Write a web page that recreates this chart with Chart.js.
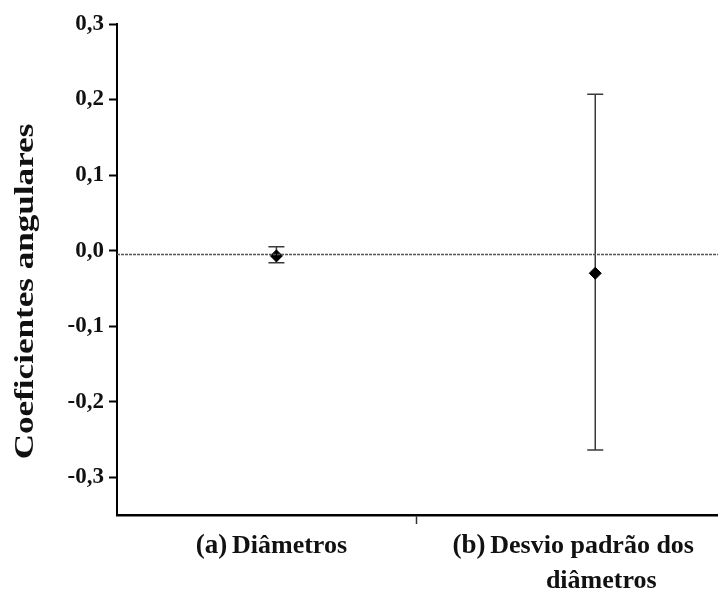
<!DOCTYPE html>
<html>
<head>
<meta charset="utf-8">
<script src="https://cdn.jsdelivr.net/npm/chart.js@4"></script>
<style>
  body { margin: 0; background: #fff; }
  #wrap { width: 718px; height: 594px; }
</style>
</head>
<body>
<div id="wrap"><canvas id="chart"></canvas></div>
<script>
// dados
const categoryPrefixes = ['(a)', '(b)'];
const categoryNames = [['Diâmetros'], ['Desvio padrão dos', 'diâmetros']];
const xPositions = [1, 2];
const means = [-0.007, -0.030];
const upperLimits = [0.005, 0.207];
const lowerLimits = [-0.016, -0.264];
const referenceValue = -0.005;
const yTickValues = [-0.3, -0.2, -0.1, 0.0, 0.1, 0.2, 0.3];
const xSeparatorTicks = [1.44];
const yTitle = 'Coeficientes angulares';

const serif = '"Liberation Serif", "Times New Roman", serif';

const errorBars = {
    id: 'errorBars',
    beforeDatasetsDraw(chart) {
        const ctx = chart.ctx;
        const xs = chart.scales.x, ys = chart.scales.y;
        ctx.save();
        ctx.strokeStyle = '#3a3a3a';
        ctx.lineWidth = 1.5;
        xPositions.forEach((xv, i) => {
            const px = xs.getPixelForValue(xv);
            const top = ys.getPixelForValue(upperLimits[i]);
            const bot = ys.getPixelForValue(lowerLimits[i]);
            ctx.beginPath();
            ctx.moveTo(px, top); ctx.lineTo(px, bot);
            ctx.moveTo(px - 8, top); ctx.lineTo(px + 8, top);
            ctx.moveTo(px - 8, bot); ctx.lineTo(px + 8, bot);
            ctx.stroke();
        });
        ctx.restore();
    }
};

const labelsPlugin = {
    id: 'labelsPlugin',
    afterDraw(chart) {
        const ctx = chart.ctx;
        const xs = chart.scales.x;
        ctx.save();
        ctx.fillStyle = '#111';
        ctx.textBaseline = 'alphabetic';
        const preFont = 'bold 27px ' + serif;
        const nameFont = 'bold 26px ' + serif;
        xPositions.forEach((xv, i) => {
            const px = xs.getPixelForValue(xv);
            const lines = categoryNames[i];
            // primeira linha com o prefixo
            ctx.font = preFont;
            const wp = ctx.measureText(categoryPrefixes[i] + ' ').width - 2;
            ctx.font = nameFont;
            const wn = ctx.measureText(lines[0]).width;
            const shift = lines.length > 1 ? -22 : -5;
            let x0 = px + shift - (wp + wn) / 2;
            ctx.textAlign = 'left';
            ctx.font = preFont;
            ctx.fillText(categoryPrefixes[i], x0, 553);
            ctx.font = nameFont;
            ctx.fillText(lines[0], x0 + wp, 553);
            for (let k = 1; k < lines.length; k++) {
                ctx.textAlign = 'center';
                ctx.fillText(lines[k], px + 6, 553 + 35 * k);
            }
        });
        // título do eixo y (esticado como no original)
        const ys = chart.scales.y;
        const cy = (ys.top + ys.bottom) / 2 + 22;
        ctx.translate(33, cy);
        ctx.rotate(-Math.PI / 2);
        ctx.scale(1.3, 1);
        ctx.font = 'bold 27px ' + serif;
        ctx.textAlign = 'center';
        ctx.fillText(yTitle, 0, 0);
        ctx.restore();
    }
};

new Chart(document.getElementById('chart'), {
    type: 'scatter',
    data: {
        datasets: [
            {
                type: 'line',
                data: [{ x: 0.5, y: referenceValue }, { x: 2.385, y: referenceValue }],
                borderColor: '#555',
                borderWidth: 1.5,
                borderDash: [3, 1],
                pointRadius: 0,
                fill: false
            },
            {
                data: xPositions.map((x, i) => ({ x: x, y: means[i] })),
                pointStyle: 'rectRot',
                pointRadius: 6,
                backgroundColor: '#000',
                borderColor: '#000'
            }
        ]
    },
    options: {
        responsive: true,
        maintainAspectRatio: false,
        animation: false,
        layout: { autoPadding: false, padding: { top: 24, right: 0, left: 0, bottom: 0 } },
        plugins: { legend: { display: false }, tooltip: { enabled: false } },
        scales: {
            x: {
                type: 'linear',
                min: 0.5,
                max: 2.385,
                afterBuildTicks: s => { s.ticks = xSeparatorTicks.map(v => ({ value: v })); },
                afterFit: s => { s.height = 79; },
                ticks: { display: false },
                grid: { drawOnChartArea: false, tickLength: 9, tickColor: '#333', tickWidth: 1.5 },
                border: { color: '#000', width: 2.5 }
            },
            y: {
                min: -0.35,
                max: 0.3,
                afterBuildTicks: s => { s.ticks = yTickValues.map(v => ({ value: v })); },
                afterFit: s => { s.width = 117; },
                ticks: {
                    padding: 5,
                    color: '#111',
                    font: { family: serif, size: 23, weight: 'bold' },
                    callback: v => v.toFixed(1).replace('.', ',')
                },
                grid: { drawOnChartArea: false, tickLength: 8, tickColor: '#000', tickWidth: 2 },
                border: { color: '#000', width: 2 }
            }
        }
    },
    plugins: [errorBars, labelsPlugin]
});
</script>
</body>
</html>
